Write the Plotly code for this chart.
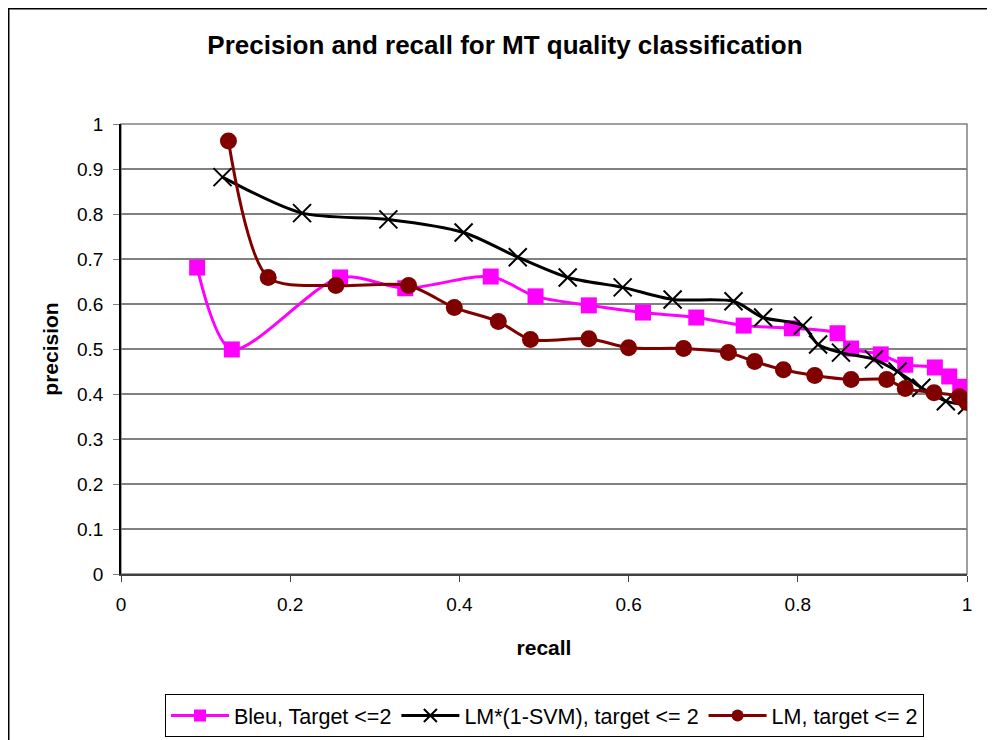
import plotly.graph_objects as go

# Bleu, Target <=2
bleu_recall = [0.090, 0.131, 0.259, 0.336, 0.437, 0.490, 0.553, 0.617, 0.680, 0.736,
               0.793, 0.847, 0.863, 0.898, 0.927, 0.962, 0.979, 0.992, 1.000]
bleu_precision = [0.681, 0.499, 0.659, 0.635, 0.661, 0.617, 0.597, 0.581, 0.570, 0.552,
                  0.546, 0.535, 0.501, 0.488, 0.465, 0.459, 0.439, 0.416, 0.394]

# LM*(1-SVM), target <= 2
svm_recall = [0.120, 0.214, 0.316, 0.405, 0.469, 0.528, 0.593, 0.652, 0.724, 0.759,
              0.806, 0.824, 0.851, 0.890, 0.918, 0.946, 0.975, 1.000]
svm_precision = [0.882, 0.802, 0.788, 0.759, 0.704, 0.659, 0.637, 0.610, 0.606, 0.570,
                 0.552, 0.510, 0.492, 0.477, 0.450, 0.414, 0.384, 0.375]

# LM, target <= 2
lm_recall = [0.127, 0.174, 0.254, 0.340, 0.394, 0.446, 0.484, 0.553, 0.600, 0.665,
             0.718, 0.749, 0.783, 0.820, 0.863, 0.905, 0.927, 0.961, 0.991, 1.000]
lm_precision = [0.962, 0.659, 0.641, 0.641, 0.592, 0.561, 0.521, 0.523, 0.503, 0.501,
                0.492, 0.472, 0.454, 0.441, 0.432, 0.432, 0.412, 0.403, 0.394, 0.381]

series_names = ["Bleu, Target <=2", "LM*(1-SVM), target <= 2", "LM, target <= 2"]

FONT = "Liberation Sans, Arial, sans-serif"

styles = [
    dict(color="#FF00FF", symbol="square", size=16, lsize=12, mline=0),
    dict(color="#000000", symbol="x-thin", size=18, lsize=13, mline=2),
    dict(color="#800000", symbol="circle", size=17, lsize=12, mline=0),
]
data = [(bleu_recall, bleu_precision), (svm_recall, svm_precision), (lm_recall, lm_precision)]

fig = go.Figure()
for (xs, ys), name, st in zip(data, series_names, styles):
    mk = dict(symbol=st["symbol"], size=st["size"], color=st["color"])
    if st["mline"]:
        mk["line"] = dict(color=st["color"], width=st["mline"])
    fig.add_trace(go.Scatter(
        x=xs, y=ys, mode="lines+markers", name=name, showlegend=False,
        line=dict(color=st["color"], width=3, shape="spline", smoothing=0.8),
        marker=mk))
for name, st in zip(series_names, styles):
    mk = dict(symbol=st["symbol"], size=st["lsize"], color=st["color"])
    if st["mline"]:
        mk["line"] = dict(color=st["color"], width=st["mline"])
    fig.add_trace(go.Scatter(
        x=[None], y=[None], mode="lines+markers", name=name, showlegend=True,
        line=dict(color=st["color"], width=3), marker=mk))

# outer chart frame (extends beyond the visible picture on right/bottom)
fig.add_shape(type="rect", xref="paper", yref="paper",
              x0=-0.1327, x1=1.3, y0=-0.6, y1=1.2561,
              line=dict(color="#000000", width=1.5), layer="below")
# plot-area frame
fig.add_shape(type="rect", xref="paper", yref="paper",
              x0=0, x1=1, y0=0, y1=1,
              line=dict(color="#808080", width=1.5), layer="below")

fig.update_layout(
    width=987, height=732,
    margin=dict(l=113, r=28, t=116, b=166, autoexpand=False),
    paper_bgcolor="white", plot_bgcolor="white",
    font=dict(family=FONT, size=19, color="#000000"),
    title=dict(text="<b>Precision and recall for MT quality classification</b>",
               font=dict(family=FONT, size=26, color="#000000"),
               xref="container", x=0.5035, xanchor="center",
               yref="container", y=0.9495, yanchor="middle"),
    showlegend=True,
    legend=dict(orientation="h", xref="paper", yref="paper",
                x=0.052, xanchor="left", y=-0.2667, yanchor="top",
                bordercolor="#000000", borderwidth=1,
                font=dict(family=FONT, size=21.5), itemwidth=58,
                tracegroupgap=0, bgcolor="white"),
    xaxis=dict(range=[0, 1], dtick=0.2, tick0=0, showgrid=False, zeroline=False,
               showline=True, linecolor="#404040", linewidth=2,
               ticks="outside", ticklen=6, tickcolor="#404040",
               ticklabelstandoff=6,
               title=dict(text="<b>recall</b>", font=dict(family=FONT, size=21),
                          standoff=27)),
    yaxis=dict(range=[0, 1], dtick=0.1, tick0=0, showgrid=True, gridcolor="#808080",
               gridwidth=1.5, zeroline=False,
               showline=True, linecolor="#000000", linewidth=1.5,
               ticks="outside", ticklen=6, tickcolor="#808080",
               ticklabelstandoff=6,
               title=dict(text="<b>precision</b>", font=dict(family=FONT, size=21),
                          standoff=13)),
)

fig.write_html("out.html")
